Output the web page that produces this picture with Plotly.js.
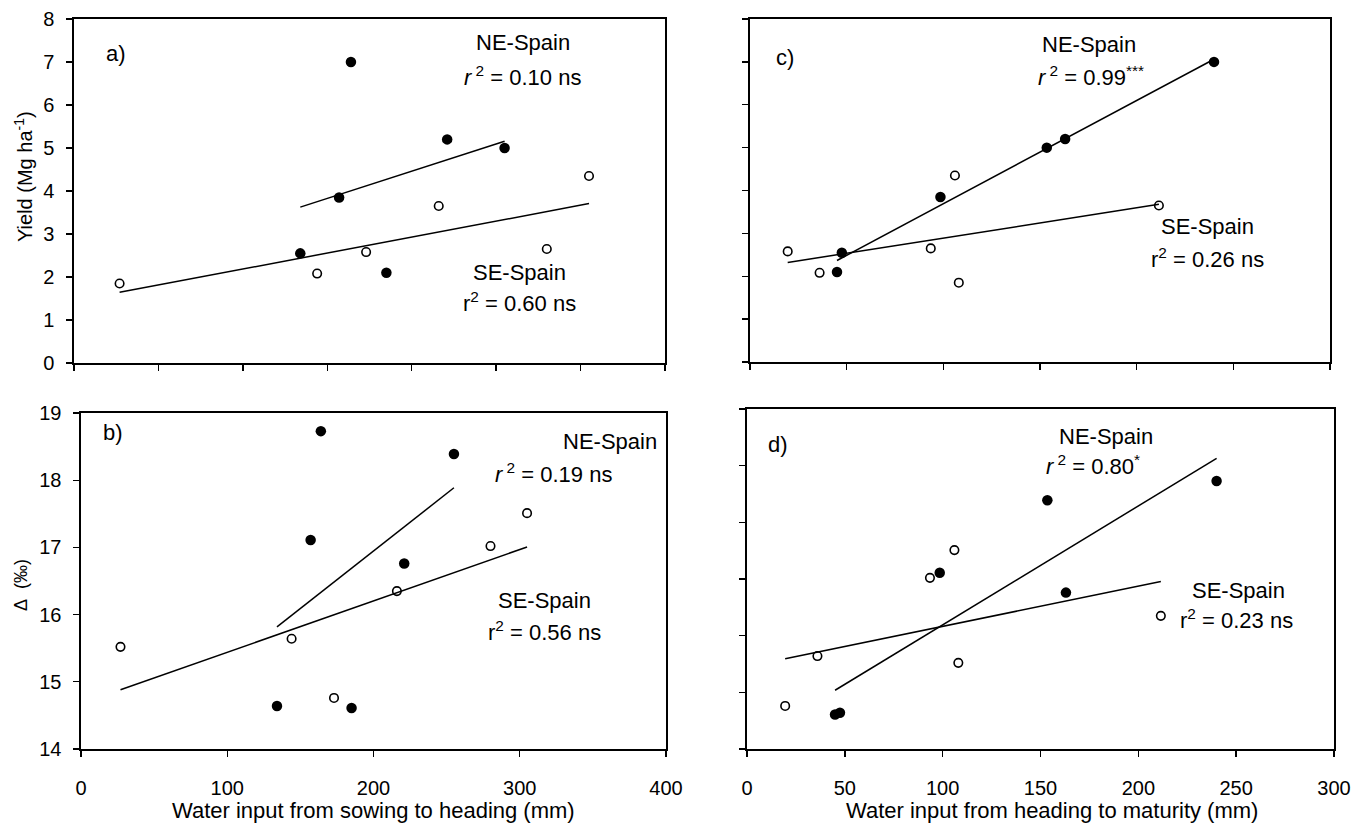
<!DOCTYPE html>
<html><head><meta charset="utf-8">
<script src="https://cdn.plot.ly/plotly-3.0.1.min.js"></script>
<style>html,body{margin:0;padding:0;background:#fff}#chart{width:1354px;height:829px}</style>
</head><body><div id="chart"></div>
<script>
// ---- data (one entry per site) ----
const neSowHead = [134, 157, 164, 185, 221, 255];
const neHeadMat = [47.5, 98.5, 240, 45, 163, 153.5];
const neYield   = [2.55, 3.85, 7.0, 2.1, 5.2, 5.0];
const neDelta   = [14.64, 17.11, 18.73, 14.61, 16.76, 18.39];

const seSowHead = [27, 144, 173, 216, 280, 305];
const seHeadMat = [108, 36, 19.5, 211.5, 93.5, 106];
const seYield   = [1.85, 2.08, 2.58, 3.65, 2.65, 4.35];
const seDelta   = [15.52, 15.64, 14.76, 16.35, 17.02, 17.51];

const xTicksSow = [0, 100, 200, 300, 400];
const xTicksHead = [0, 50, 100, 150, 200, 250, 300];

// least-squares fit drawn over the range of the data
function fit(x, y) {
  const n = x.length;
  const mx = x.reduce((s, v) => s + v, 0) / n;
  const my = y.reduce((s, v) => s + v, 0) / n;
  let sxx = 0, sxy = 0;
  for (let i = 0; i < n; i++) { sxx += (x[i] - mx) ** 2; sxy += (x[i] - mx) * (y[i] - my); }
  const b = sxy / sxx, a = my - b * mx;
  const xs = [Math.min(...x), Math.max(...x)];
  return { x: xs, y: xs.map(v => a + b * v) };
}

const W = 1354, H = 829;
const dX = (l, r) => [l / W, r / W];
const dY = (t, b) => [1 - b / H, 1 - t / H];
const P = (x, y) => ({ x: x / W, y: 1 - y / H });

const filled = { symbol: 'circle', size: 10.5, color: '#000' };
const open = { symbol: 'circle-open', size: 8.5, color: '#000', line: { width: 1.6, color: '#000' } };
const lineSt = { color: '#000', width: 1.5 };

const traces = [];
function panel(n, xs1, ys1, xs2, ys2) {
  const xa = n === 1 ? 'x' : 'x' + n, ya = n === 1 ? 'y' : 'y' + n;
  const f1 = fit(xs1, ys1), f2 = fit(xs2, ys2);
  traces.push({ x: f1.x, y: f1.y, mode: 'lines', line: lineSt, xaxis: xa, yaxis: ya, hoverinfo: 'skip' });
  traces.push({ x: f2.x, y: f2.y, mode: 'lines', line: lineSt, xaxis: xa, yaxis: ya, hoverinfo: 'skip' });
  traces.push({ x: xs2, y: ys2, mode: 'markers', marker: open, xaxis: xa, yaxis: ya, name: 'SE-Spain' });
  traces.push({ x: xs1, y: ys1, mode: 'markers', marker: filled, xaxis: xa, yaxis: ya, name: 'NE-Spain' });
}
panel(1, neSowHead, neYield, seSowHead, seYield);
panel(2, neSowHead, neDelta, seSowHead, seDelta);
panel(3, neHeadMat, neYield, seHeadMat, seYield);
panel(4, neHeadMat, neDelta, seHeadMat, seDelta);

const FONT = '"Liberation Sans", Arial, Helvetica, sans-serif';
const base = {
  showgrid: false, zeroline: false, showline: true, mirror: true,
  linecolor: '#000', linewidth: 1.6, ticks: 'outside', ticklen: 6, tickwidth: 1.4,
  tickcolor: '#000', tickfont: { size: 20, color: '#000', family: FONT }, fixedrange: true
};
const ax = (o) => Object.assign({}, base, o);

const ann = [];
function txt(x, y, text, size) {
  const p = P(x, y);
  ann.push({ xref: 'paper', yref: 'paper', x: p.x, y: p.y, xanchor: 'center', yanchor: 'middle',
    text: text, showarrow: false, font: { size: size || 22, color: '#000', family: FONT } });
}
// panel letters
txt(116, 53, 'a)'); txt(113, 432, 'b)'); txt(785, 58, 'c)'); txt(778, 444, 'd)');
// a
txt(523, 43, 'NE-Spain'); txt(522, 76, '<i>r</i><sup> 2</sup> = 0.10 ns');
txt(519, 272, 'SE-Spain'); txt(519, 302, 'r<sup>2</sup> = 0.60 ns');
// b
txt(610, 441, 'NE-Spain'); txt(553, 473, '<i>r</i><sup> 2</sup> = 0.19 ns');
txt(544, 600, 'SE-Spain'); txt(544, 631, 'r<sup>2</sup> = 0.56 ns');
// c
txt(1089, 45, 'NE-Spain'); txt(1091, 76, '<i>r</i><sup> 2</sup> = 0.99<sup>***</sup>');
txt(1207, 226, 'SE-Spain'); txt(1207, 258, 'r<sup>2</sup> = 0.26 ns');
// d
txt(1106, 436, 'NE-Spain'); txt(1093, 465, '<i>r</i><sup> 2</sup> = 0.80<sup>*</sup>');
txt(1238, 590, 'SE-Spain'); txt(1236, 619, 'r<sup>2</sup> = 0.23 ns');
// axis titles
txt(373, 810, 'Water input from sowing to heading (mm)', 22);
txt(1052, 810, 'Water input from heading to maturity (mm)', 22);
(function () {
  let p = P(23, 177);
  ann.push({ xref: 'paper', yref: 'paper', x: p.x, y: p.y, xanchor: 'center', yanchor: 'middle', textangle: -90,
    text: 'Yield (Mg ha<sup>-1</sup>)', showarrow: false, font: { size: 20, color: '#000', family: FONT } });
  p = P(21, 585);
  ann.push({ xref: 'paper', yref: 'paper', x: p.x, y: p.y, xanchor: 'center', yanchor: 'middle', textangle: -90,
    text: 'Δ\u00a0\u00a0(‰)', showarrow: false, font: { size: 18, color: '#000', family: FONT } });
})();

const layout = {
  width: W, height: H, margin: { l: 0, r: 0, t: 0, b: 0 }, showlegend: false,
  paper_bgcolor: '#fff', plot_bgcolor: '#fff', font: { family: FONT, color: '#000' },
  xaxis:  ax({ domain: dX(74, 665), range: [0, 350], dtick: 50, tick0: 0, showticklabels: false, anchor: 'y' }),
  yaxis:  ax({ domain: dY(19, 363), range: [0, 8], dtick: 1, tick0: 0, anchor: 'x', ticklabelstandoff: 8 }),
  xaxis2: ax({ domain: dX(81, 666), range: [0, 400], tickmode: 'array', tickvals: xTicksSow, ticktext: xTicksSow.map(String), anchor: 'y2', ticklabelstandoff: 14 }),
  yaxis2: ax({ domain: dY(413, 749), range: [14, 19], dtick: 1, tick0: 14, anchor: 'x2', ticklabelstandoff: 8 }),
  xaxis3: ax({ domain: dX(750, 1330), range: [0, 300], dtick: 50, tick0: 0, showticklabels: false, anchor: 'y3' }),
  yaxis3: ax({ domain: dY(19, 362), range: [0, 8], dtick: 1, tick0: 0, showticklabels: false, anchor: 'x3' }),
  xaxis4: ax({ domain: dX(747, 1334), range: [0, 300], tickmode: 'array', tickvals: xTicksHead, ticktext: xTicksHead.map(String), anchor: 'y4', ticklabelstandoff: 14 }),
  yaxis4: ax({ domain: dY(409, 749), range: [14, 20], dtick: 1, tick0: 14, showticklabels: false, anchor: 'x4' }),
  annotations: ann
};
Plotly.newPlot('chart', traces, layout, { staticPlot: true, displayModeBar: false });
</script></body></html>
